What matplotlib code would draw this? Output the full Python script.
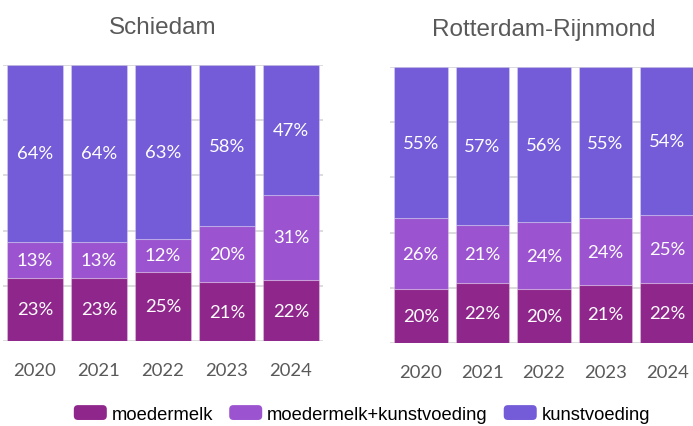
import matplotlib
matplotlib.use("Agg")
import matplotlib.pyplot as plt
from matplotlib.legend_handler import HandlerPatch
from matplotlib.patches import FancyBboxPatch
import numpy as np

years = ["2020", "2021", "2022", "2023", "2024"]
series_names = ["moedermelk", "moedermelk+kunstvoeding", "kunstvoeding"]

schiedam_moedermelk = [23, 23, 25, 21.2, 22]
schiedam_mix = [13, 13, 12, 20.4, 31]
schiedam_kunst = [64, 64, 63, 58.4, 47]

rr_moedermelk = [19.6, 21.6, 19.6, 20.9, 21.6]
rr_mix = [25.6, 21.2, 24.2, 24.3, 24.8]
rr_kunst = [54.8, 57.2, 56.2, 54.8, 53.6]

titles = ["Schiedam", "Rotterdam-Rijnmond"]
colors = ["#8F268B", "#9B53CF", "#745BD8"]


class RoundHandler(HandlerPatch):
    def create_artists(self, legend, orig_handle, xdescent, ydescent,
                       width, height, fontsize, trans):
        p = FancyBboxPatch((-xdescent, -ydescent), width, height,
                           boxstyle="round,pad=0,rounding_size=3",
                           facecolor=orig_handle.get_facecolor(),
                           edgecolor="none", transform=trans)
        return [p]


fig = plt.figure(figsize=(6.93, 4.27), dpi=100)
ax1 = fig.add_axes([3/693, 85/427, 320/693, 276/427])
ax2 = fig.add_axes([390/693, 83/427, 308/693, 276/427])

panels = [
    (ax1, [schiedam_moedermelk, schiedam_mix, schiedam_kunst], titles[0], 0.875),
    (ax2, [rr_moedermelk, rr_mix, rr_kunst], titles[1], 0.87),
]

for ax, data, title, width in panels:
    x = np.arange(len(years))
    bottom = np.zeros(len(years))
    for vals, col, name in zip(data, colors, series_names):
        vals = np.array(vals, dtype=float)
        ax.bar(x, vals, width, bottom=bottom, color=col, label=name,
               edgecolor=(1, 1, 1, 0.25), linewidth=0.8, zorder=2)
        for xi, v, b in zip(x, vals, bottom):
            ax.text(xi, b + v / 2, f"{int(v + 0.5)}%", ha="center", va="center",
                    color="white", fontsize=13.3, family="Lato", zorder=3)
        bottom += vals
    ax.set_xlim(-0.5, 4.5)
    ax.set_ylim(0, 100)
    ax.set_yticks([0, 20, 40, 60, 80, 100])
    ax.set_yticklabels([])
    ax.yaxis.grid(True, color="#d9d9d9", linewidth=1.3, zorder=0)
    ax.set_axisbelow(True)
    ax.tick_params(axis="y", length=0)
    ax.set_xticks(x)
    ax.set_xticklabels(years, family="Lato", fontsize=13.3, color="#595959")
    ax.tick_params(axis="x", length=0, pad=15)
    for s in ax.spines.values():
        s.set_visible(False)
    ax.set_title(title, family="Liberation Sans", fontsize=17.5, color="#595959", pad=23)

handles, labels = ax1.get_legend_handles_labels()
leg = fig.legend([h[0] for h in handles], labels, loc="center",
                 bbox_to_anchor=(362/693, 1 - 415/427),
                 ncol=3, frameon=False, prop={"family": "Liberation Sans", "size": 13.2},
                 handlelength=1.8, handleheight=0.87, handletextpad=0.27, columnspacing=0.87,
                 borderpad=0, borderaxespad=0,
                 handler_map={matplotlib.patches.Rectangle: RoundHandler()})

fig.savefig("out.png", dpi=100)
